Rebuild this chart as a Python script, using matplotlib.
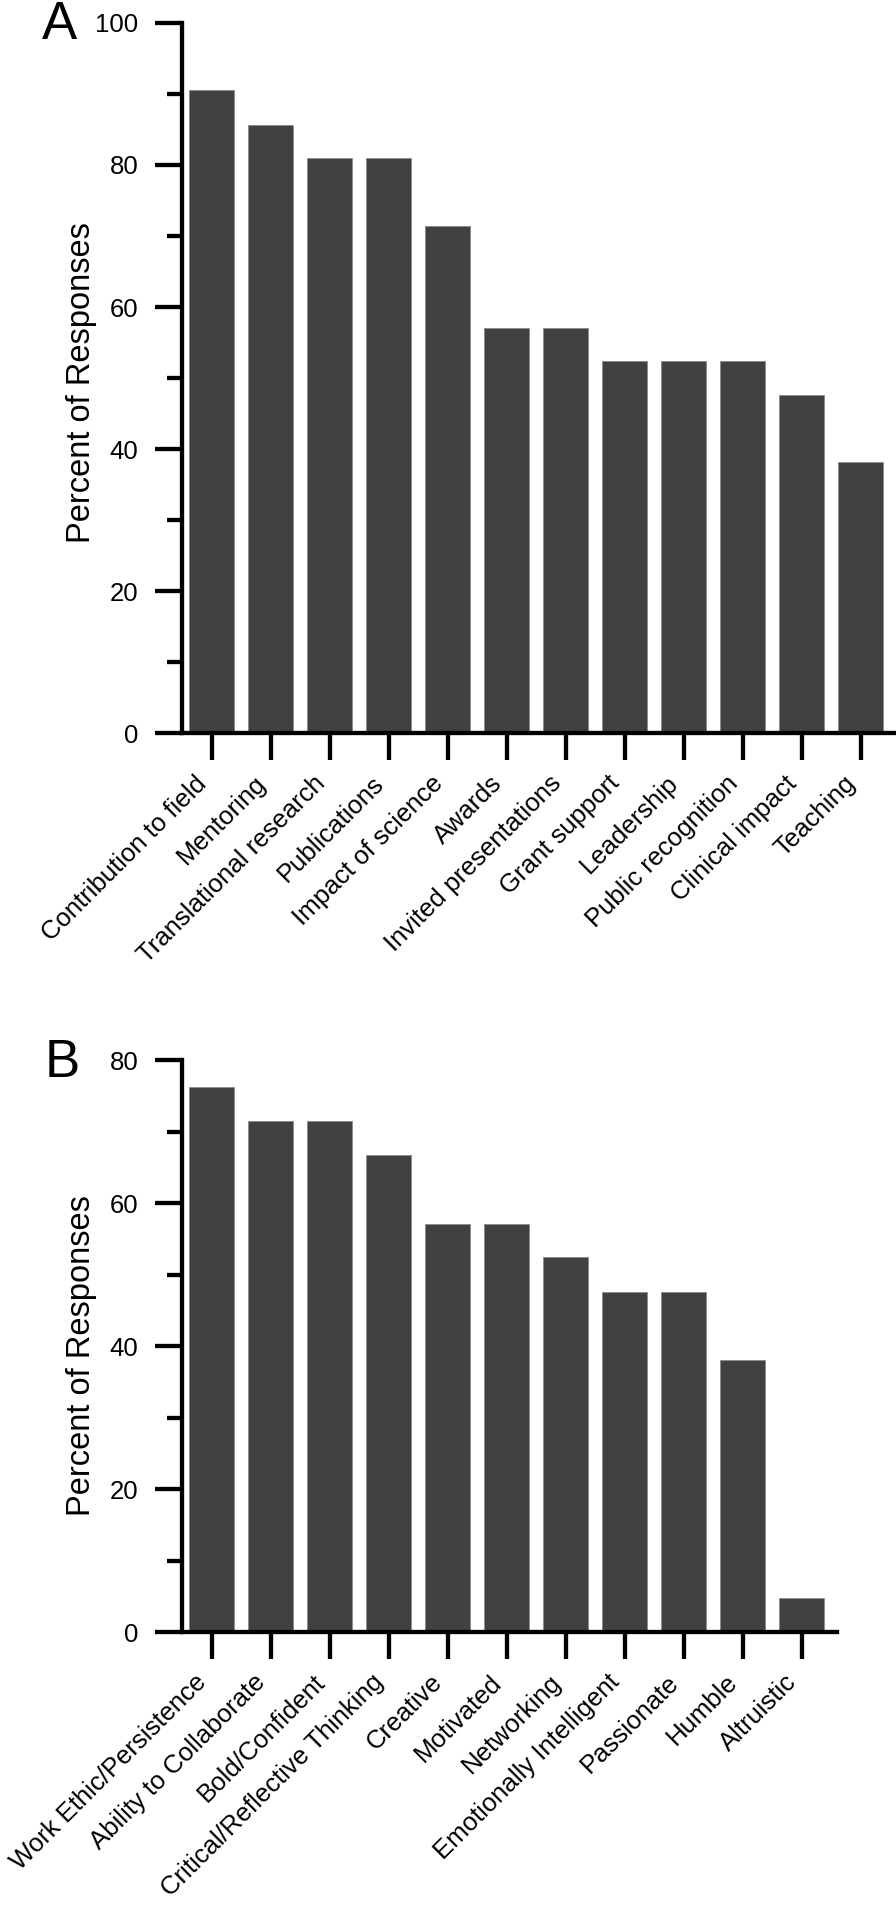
import matplotlib
matplotlib.use("Agg")
from matplotlib import pyplot as plt
import matplotlib.transforms as mtransforms
import numpy as np

plt.rcParams['font.family'] = ['Liberation Sans', 'DejaVu Sans']

# panel A: outcomes
cats_a = ["Contribution to field", "Mentoring", "Translational research",
          "Publications", "Impact of science", "Awards", "Invited presentations",
          "Grant support", "Leadership", "Public recognition", "Clinical impact",
          "Teaching"]
vals_a = [90.5, 85.7, 81.0, 81.0, 71.4, 57.1, 57.1, 52.4, 52.4, 52.4, 47.6, 38.1]

# panel B: traits
cats_b = ["Work Ethic/Persistence", "Ability to Collaborate", "Bold/Confident",
          "Critical/Reflective Thinking", "Creative", "Motivated", "Networking",
          "Emotionally Intelligent", "Passionate", "Humble", "Altruistic"]
vals_b = [76.2, 71.4, 71.4, 66.7, 57.1, 57.1, 52.4, 47.6, 47.6, 38.1, 4.8]

W, H = 896, 1910
fig = plt.figure(figsize=(W/100, H/100), dpi=100)

def px_axes(l, r, top, bot):
    return fig.add_axes([l/W, 1-bot/H, (r-l)/W, (bot-top)/H])

def panel(ax, cats, vals, ymax, xmax):
    x = np.arange(len(cats))
    ax.bar(x, vals, width=0.76, color='#414141', edgecolor='#8a8a8a', linewidth=0.6)
    ax.set_xlim(-0.5, xmax)
    ax.set_ylim(0, ymax)
    ax.set_yticks(np.arange(0, ymax+1, 20))
    ax.set_yticks(np.arange(10, ymax, 20), minor=True)
    ax.set_xticks(x)
    ax.set_xticklabels(cats, rotation=45, ha='right', fontsize=18.5)
    # labels in the reference sit a little right of the tick
    offset = mtransforms.ScaledTranslation(9/100, 0, fig.dpi_scale_trans)
    for lab in ax.get_xticklabels():
        lab.set_transform(lab.get_transform() + offset)
    for s in ['top', 'right']:
        ax.spines[s].set_visible(False)
    for s in ['left', 'bottom']:
        ax.spines[s].set_linewidth(3.1)
    ax.tick_params(axis='both', which='major', length=19.5, width=3.1)
    ax.tick_params(axis='y', which='major', pad=12, labelsize=18.5)
    ax.tick_params(axis='x', which='major', pad=8)
    ax.tick_params(axis='y', which='minor', length=10.5, width=3.1)
    ax.set_ylabel('Percent of Responses', fontsize=23.5)

axA = px_axes(182, 896, 23, 733)
panel(axA, cats_a, vals_a, 100, 11.6)
axA.yaxis.set_label_coords(-0.119, 0.494)

axB = px_axes(182, 837, 1060, 1632)
panel(axB, cats_b, vals_b, 80, 10.6)
axB.yaxis.set_label_coords(-0.130, 0.483)

fig.text(42/W, 1-0/H, "A", fontsize=38, ha='left', va='top')
fig.text(45/W, 1-1038/H, "B", fontsize=38, ha='left', va='top')

fig.savefig("out.png", dpi=100)
